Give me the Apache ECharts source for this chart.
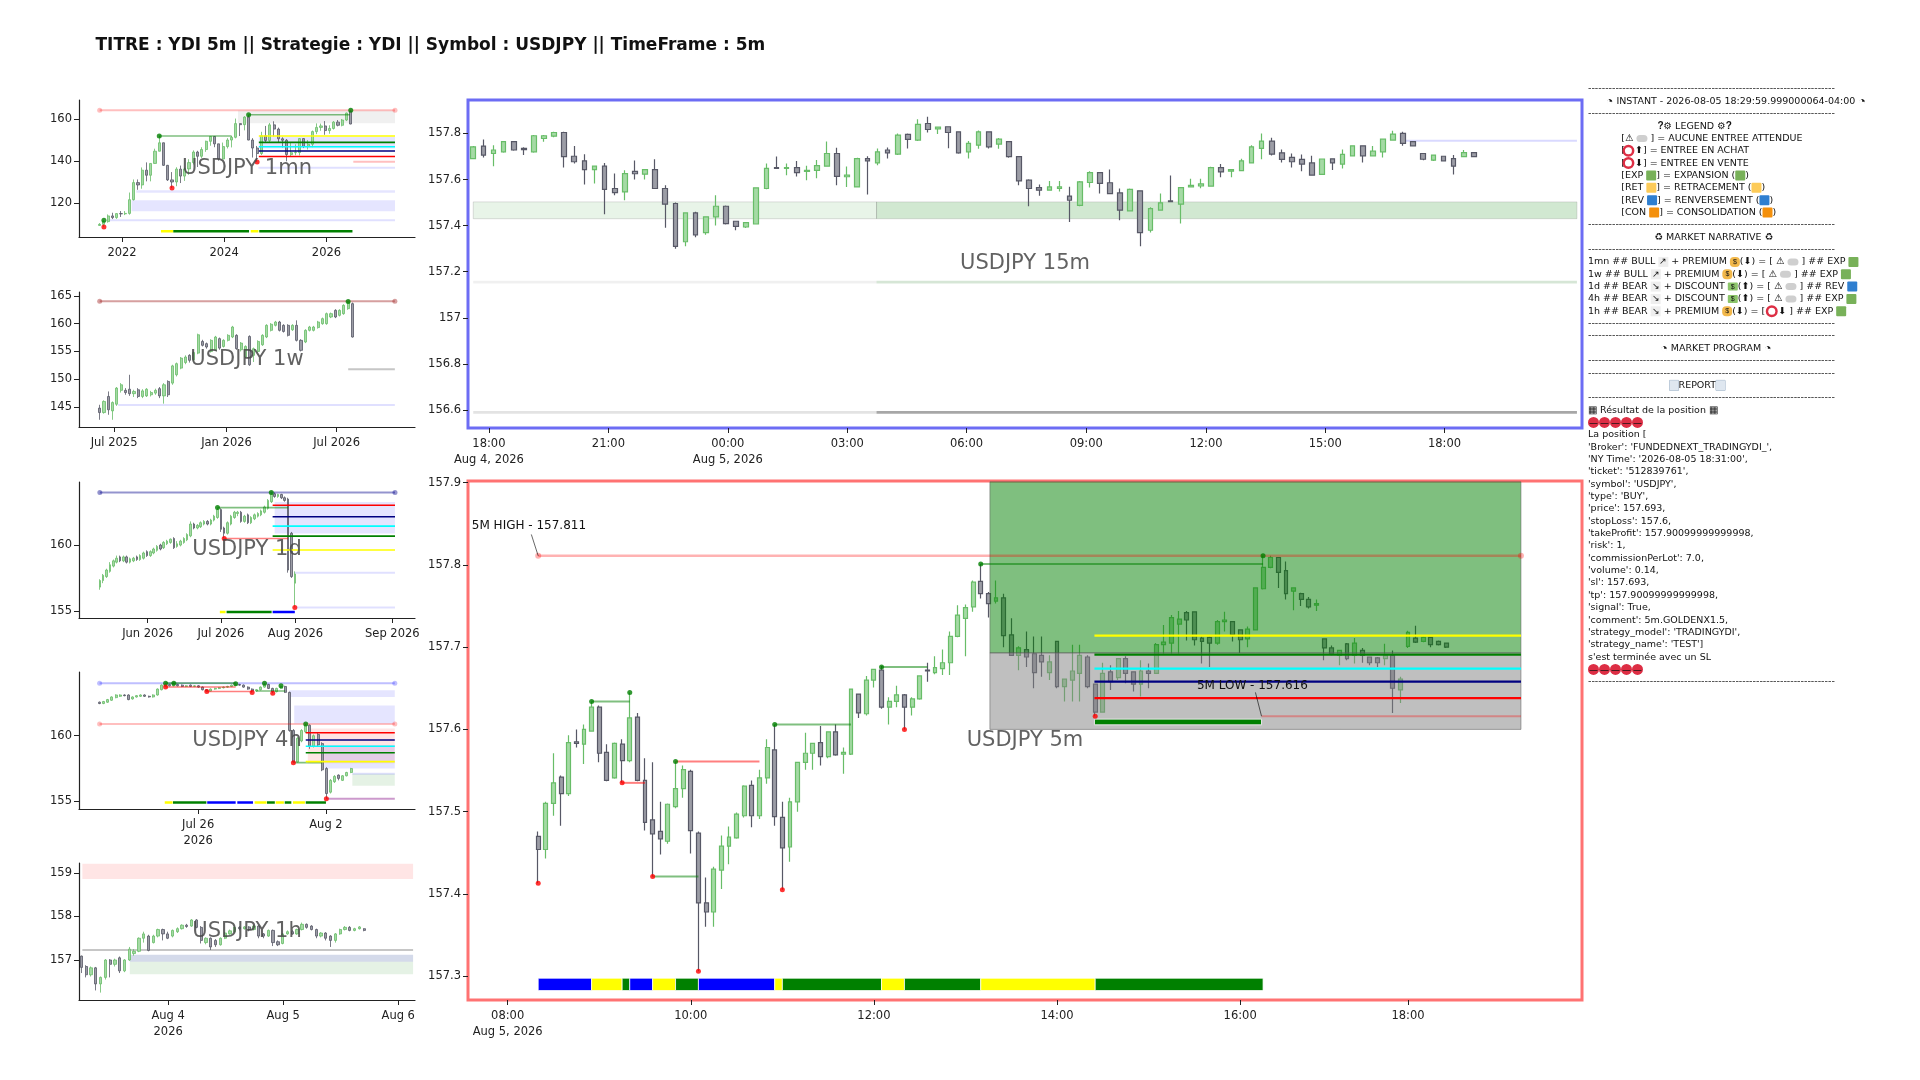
<!DOCTYPE html>
<html>
<head>
<meta charset="utf-8">
<title>USDJPY - YDI 5m</title>
<script src="https://cdn.jsdelivr.net/npm/echarts@6/dist/echarts.min.js"></script>
<style>
  html, body { margin: 0; padding: 0; background: #fff; }
  #chart { width: 1920px; height: 1080px; }
</style>
</head>
<body>
<div id="chart"></div>
<script>
// ---------------- data ----------------
// candles are [open, close, low, high]; x values are bar indexes

// 5m - Aug 5, 2026 from 08:20
const m5Ohlc = [
  [157.470,157.454,157.413,157.476],[157.454,157.510,157.443,157.512],[157.510,157.535,157.495,157.571],[157.542,157.522,157.483,157.544],
  [157.522,157.584,157.519,157.593],[157.585,157.583,157.578,157.600],[157.582,157.600,157.558,157.606],[157.598,157.627,157.597,157.634],
  [157.627,157.571,157.560,157.629],[157.572,157.538,157.537,157.582],[157.541,157.583,157.540,157.584],[157.582,157.562,157.535,157.588],
  [157.562,157.614,157.560,157.645],[157.615,157.538,157.537,157.620],[157.538,157.487,157.477,157.565],[157.490,157.473,157.421,157.560],
  [157.476,157.467,157.448,157.512],[157.464,157.509,157.461,157.510],[157.506,157.528,157.504,157.561],[157.528,157.551,157.517,157.556],
  [157.549,157.477,157.449,157.551],[157.474,157.389,157.306,157.476],[157.389,157.378,157.360,157.420],[157.378,157.430,157.360,157.433],
  [157.429,157.458,157.406,157.471],[157.458,157.469,157.436,157.482],[157.468,157.497,157.467,157.499],[157.495,157.531,157.493,157.532],
  [157.532,157.495,157.481,157.538],[157.495,157.541,157.491,157.551],[157.541,157.578,157.534,157.588],[157.575,157.494,157.483,157.606],
  [157.493,157.456,157.405,157.512],[157.457,157.512,157.439,157.517],[157.512,157.560,157.500,157.560],[157.560,157.571,157.551,157.596],
  [157.571,157.583,157.551,157.583],[157.584,157.567,157.556,157.604],[157.567,157.597,157.565,157.597],[157.597,157.569,157.568,157.606],
  [157.570,157.572,157.546,157.578],[157.570,157.649,157.569,157.649],[157.643,157.620,157.614,157.643],[157.619,157.660,157.617,157.665],
  [157.660,157.673,157.651,157.673],[157.672,157.627,157.625,157.677],[157.627,157.634,157.606,157.639],[157.634,157.642,157.627,157.653],
  [157.642,157.627,157.600,157.643],[157.627,157.637,157.617,157.639],[157.637,157.665,157.636,157.665],[157.672,157.671,157.658,157.681],
  [157.669,157.675,157.667,157.689],[157.674,157.681,157.666,157.697],[157.681,157.713,157.666,157.719],[157.713,157.739,157.712,157.751],
  [157.735,157.748,157.689,157.752],[157.749,157.779,157.743,157.781],[157.780,157.765,157.759,157.801],[157.765,157.753,157.736,157.767],
  [157.756,157.760,157.753,157.781],[157.760,157.714,157.700,157.765],[157.715,157.690,157.690,157.735],[157.690,157.699,157.672,157.701],
  [157.697,157.688,157.676,157.719],[157.692,157.669,157.650,157.713],[157.690,157.682,157.664,157.713],[157.669,157.682,157.660,157.690],
  [157.707,157.652,157.650,157.707],[157.652,157.661,157.634,157.661],[157.660,157.671,157.634,157.703],[157.668,157.690,157.634,157.703],
  [157.688,157.652,157.650,157.690],[157.655,157.621,157.616,157.655],[157.621,157.668,157.621,157.681],[157.670,157.658,157.648,157.678],
  [157.663,157.686,157.660,157.686],[157.686,157.668,157.656,157.689],[157.670,157.655,157.646,157.670],[157.655,157.671,157.640,157.684],
  [157.671,157.668,157.650,157.680],[157.668,157.703,157.668,157.705],[157.703,157.706,157.692,157.727],[157.705,157.736,157.692,157.739],
  [157.728,157.734,157.692,157.744],[157.742,157.733,157.708,157.744],[157.743,157.709,157.702,157.743],[157.711,157.707,157.680,157.713],
  [157.712,157.705,157.676,157.713],[157.705,157.731,157.703,157.733],[157.731,157.733,157.719,157.743],[157.731,157.715,157.707,157.731],
  [157.721,157.709,157.693,157.721],[157.710,157.722,157.700,157.725],[157.721,157.772,157.721,157.772],[157.771,157.797,157.770,157.811],
  [157.797,157.809,157.796,157.811],[157.809,157.791,157.772,157.809],[157.793,157.765,157.758,157.804],[157.768,157.772,157.745,157.772],
  [157.765,157.758,157.750,157.766],[157.758,157.749,157.747,157.761],[157.751,157.753,157.744,157.758],[157.710,157.699,157.684,157.710],
  [157.699,157.692,157.690,157.702],[157.690,157.696,157.678,157.696],[157.704,157.686,157.684,157.705],[157.690,157.705,157.680,157.711],
  [157.696,157.690,157.681,157.699],[157.688,157.681,157.678,157.688],[157.687,157.681,157.676,157.688],[157.686,157.690,157.678,157.704],
  [157.690,157.650,157.620,157.696],[157.648,157.661,157.632,157.664],[157.701,157.718,157.699,157.720],[157.711,157.706,157.705,157.726],
  [157.707,157.712,157.706,157.713],[157.712,157.703,157.700,157.712],[157.707,157.703,157.702,157.708],[157.705,157.700,157.699,157.705]
];
const m5XTicks = [-4, 20, 44, 68, 92, 114];
const m5XLabels = ['08:00\nAug 5, 2026', '10:00', '12:00', '14:00', '16:00', '18:00'];
const m5YTicks = [157.3, 157.4, 157.5, 157.6, 157.7, 157.8, 157.9];
const m5XRange = [-9.2, 136.8];
const m5YRange = [157.271, 157.902];
const m5High = 157.811;
const m5Low = 157.616;
const m5Trade = { start: 59.2, end: 128.8, entry: 157.693, stopLoss: 157.6, takeProfit: 157.901 };
const m5Levels = [[72.9, 128.8, 157.714, 'yellow'], [72.9, 128.8, 157.691, 'green'], [72.9, 128.8, 157.674, 'cyan'], [72.9, 128.8, 157.658, 'navy'], [72.9, 128.8, 157.638, 'red']];
const m5Swings = [[7, 12, 157.634, 'up'], [11, 14, 157.535, 'down'], [15, 21, 157.421, 'up'], [18, 29, 157.561, 'down'], [31, 41, 157.606, 'up'], [45, 51, 157.676, 'up'], [58, 95, 157.801, 'up']];
const m5Pivots = [[0, 157.413, 'low'], [7, 157.634, 'high'], [11, 157.535, 'low'], [12, 157.645, 'high'], [15, 157.421, 'low'], [18, 157.561, 'high'], [21, 157.306, 'low'], [31, 157.606, 'high'], [32, 157.405, 'low'], [45, 157.676, 'high'], [48, 157.600, 'low'], [58, 157.801, 'high'], [73, 157.616, 'low'], [95, 157.811, 'high']];
const m5Phases = [[0, 7, 'REV'], [7, 11, 'RET'], [11, 12, 'EXP'], [12, 15, 'REV'], [15, 18, 'RET'], [18, 21, 'EXP'], [21, 31, 'REV'], [31, 32, 'RET'], [32, 45, 'EXP'], [45, 48, 'RET'], [48, 58, 'EXP'], [58, 73, 'RET'], [73, 95, 'EXP']];
const m5Trend = [72.9, 94.8, 157.609];

// 15m - Aug 4 17:30 -> Aug 5 18:15
const m15Ohlc = [
  [157.691,157.742,157.688,157.745],[157.745,157.706,157.696,157.774],[157.713,157.728,157.658,157.749],[157.720,157.764,157.716,157.767],
  [157.764,157.728,157.725,157.767],[157.735,157.730,157.706,157.740],[157.720,157.790,157.716,157.793],[157.778,157.790,157.764,157.793],
  [157.788,157.804,157.783,157.807],[157.804,157.699,157.652,157.807],[157.701,157.677,157.670,157.745],[157.681,157.643,157.578,157.710],
  [157.643,157.658,157.583,157.658],[157.658,157.557,157.449,157.672],[157.561,157.543,157.532,157.626],[157.546,157.626,157.510,157.640],
  [157.635,157.625,157.600,157.683],[157.623,157.643,157.600,157.643],[157.643,157.561,157.561,157.688],[157.561,157.493,157.391,157.575],
  [157.496,157.310,157.300,157.500],[157.330,157.455,157.310,157.458],[157.455,157.360,157.350,157.460],[157.370,157.438,157.360,157.440],
  [157.438,157.484,157.401,157.532],[157.484,157.409,157.405,157.487],[157.419,157.397,157.380,157.420],[157.394,157.413,157.390,157.415],
  [157.407,157.564,157.405,157.566],[157.561,157.648,157.558,157.670],[157.652,157.648,157.648,157.700],[157.648,157.652,157.618,157.670],
  [157.652,157.630,157.613,157.680],[157.635,157.640,157.597,157.660],[157.640,157.660,157.605,157.685],[157.658,157.713,157.655,157.765],
  [157.713,157.614,157.575,157.738],[157.612,157.619,157.568,157.656],[157.568,157.691,157.565,157.694],[157.691,157.681,157.535,157.701],
  [157.672,157.720,157.662,157.735],[157.728,157.716,157.691,157.739],[157.710,157.793,157.706,157.800],[157.796,157.774,157.735,157.800],
  [157.771,157.839,157.767,157.862],[157.843,157.817,157.804,157.872],[157.820,157.827,157.797,157.829],[157.829,157.804,157.736,157.829],
  [157.807,157.716,157.712,157.807],[157.720,157.757,157.691,157.767],[157.749,157.807,157.733,157.813],[157.807,157.742,157.735,157.807],
  [157.754,157.775,157.733,157.780],[157.764,157.699,157.694,157.764],[157.699,157.594,157.575,157.699],[157.597,157.561,157.484,157.601],
  [157.565,157.554,157.530,157.578],[157.554,157.568,157.551,157.594],[157.561,157.568,157.548,157.594],[157.528,157.510,157.416,157.569],
  [157.488,157.590,157.484,157.594],[157.587,157.630,157.565,157.636],[157.630,157.583,157.539,157.630],[157.586,157.539,157.539,157.644],
  [157.542,157.467,157.423,157.561],[157.464,157.557,157.464,157.561],[157.551,157.370,157.310,157.551],[157.380,157.474,157.370,157.480],
  [157.467,157.499,157.464,157.539],[157.507,157.504,157.501,157.617],[157.493,157.565,157.409,157.565],[157.568,157.575,157.565,157.603],
  [157.572,157.581,157.562,157.603],[157.571,157.652,157.571,157.655],[157.652,157.633,157.610,157.667],[157.636,157.643,157.610,157.646],
  [157.639,157.681,157.636,157.690],[157.672,157.742,157.669,157.749],[157.735,157.767,157.688,157.800],[157.767,157.710,157.704,157.781],
  [157.716,157.687,157.674,157.730],[157.696,157.677,157.652,157.713],[157.687,157.667,157.636,157.709],[157.672,157.619,157.616,157.703],
  [157.622,157.689,157.620,157.690],[157.690,157.672,157.641,157.690],[157.667,157.709,157.648,157.730],[157.703,157.746,157.700,157.746],
  [157.746,157.703,157.674,157.746],[157.703,157.723,157.700,157.745],[157.720,157.775,157.696,157.775],[157.771,157.797,157.770,157.812],
  [157.800,157.757,157.746,157.807],[157.764,157.746,157.745,157.765],[157.713,157.688,157.684,157.714],[157.684,157.706,157.680,157.709],
  [157.701,157.681,157.679,157.702],[157.691,157.658,157.622,157.706],[157.699,157.717,157.699,157.728],[157.717,157.699,157.698,157.718]
];
const m15XTicks = [1.55, 13.37, 25.19, 37.0, 48.8, 60.65, 72.5, 84.3, 96.1];
const m15XLabels = ['18:00\nAug 4, 2026', '21:00', '00:00\nAug 5, 2026', '03:00', '06:00', '09:00', '12:00', '15:00', '18:00'];
const m15YTicks = [156.6, 156.8, 157.0, 157.2, 157.4, 157.6, 157.8];
const m15XRange = [-0.52, 109.7];
const m15YRange = [156.522, 157.945];
const m15Zone = [0, 39.9, 109.2, 157.43, 157.503];
const m15Floors = [157.155, 156.591];
const m15Ceiling = [92, 109.2, 157.768];

// 1mn - monthly from Aug 2021
const mnOhlc = [
  [109.5,110.0,109.3,110.6],[110.0,111.3,108.7,111.9],[111.3,114.0,110.8,114.7],[114.0,113.2,112.5,115.5],[113.2,115.1,112.6,115.2],
  [115.1,115.0,113.5,116.3],[115.0,115.2,114.4,116.3],[115.2,121.7,114.6,125.1],[121.7,129.8,121.3,131.3],[129.8,128.7,126.4,131.3],
  [128.7,135.7,126.9,137.0],[135.7,133.3,130.4,139.4],[133.3,138.9,130.4,139.0],[138.9,144.7,138.8,145.9],[144.7,148.7,144.6,151.9],
  [148.7,138.0,137.7,148.8],[138.0,131.1,130.6,138.2],[131.1,130.1,127.2,134.8],[130.1,136.2,128.1,137.1],[136.2,132.9,129.6,137.9],
  [132.9,136.3,130.6,137.0],[136.3,139.3,133.5,140.9],[139.3,144.3,138.4,145.1],[144.3,142.3,137.2,144.9],[142.3,145.5,141.5,146.6],
  [145.5,149.4,144.4,149.7],[149.4,151.7,147.3,151.7],[151.7,148.2,146.6,151.9],[148.2,141.0,140.2,148.2],[141.0,146.9,140.8,148.8],
  [146.9,150.0,146.0,150.9],[150.0,151.3,146.5,151.9],[151.3,157.8,150.8,160.2],[157.8,157.3,151.9,157.9],[157.3,160.9,154.6,161.3],
  [160.9,150.0,149.9,162.0],[150.0,146.2,141.7,150.9],[146.2,143.6,139.6,147.2],[143.6,152.0,142.9,153.9],[152.0,149.8,148.6,156.7],
  [149.8,157.2,148.6,158.1],[157.2,155.2,151.7,158.9],[155.2,150.6,148.9,155.9],[150.6,149.9,146.5,151.3],[149.9,143.1,139.9,150.5],
  [143.1,144.0,142.1,148.6],[144.0,144.1,142.8,148.0],[144.1,150.7,142.7,150.9],[150.7,147.0,146.2,150.9],[147.0,148.0,145.5,150.0],
  [148.0,154.0,146.6,154.5],[154.0,156.0,152.8,157.9],[156.0,156.7,154.4,157.8],[156.7,154.5,152.5,159.0],[154.5,155.5,153.0,157.0],
  [155.5,158.5,155.0,159.0],[158.5,157.0,156.5,159.5],[157.0,159.5,156.5,160.0],[159.5,162.8,159.0,163.0],[163.6,157.6,157.5,164.1]
];
const mnXTicks = [5.25, 29.25, 53.3];
const mnXLabels = ['2022', '2024', '2026'];
const mnYTicks = [120, 140, 160];
const mnXRange = [-4.86, 74.1];
const mnYRange = [104, 169];
const mnTop = [0, 69.4, 164.1];
const mnPremium = [32.5, 69.4, 158.0, 164.0];
const mnLevels = [[37.4, 69.4, 151.9, 'yellow'], [37.4, 69.4, 148.9, 'green'], [37.4, 69.4, 146.8, 'cyan'], [37.4, 69.4, 144.8, 'navy'], [37.4, 69.4, 142.2, 'red']];
const mnBands = [[37.4, 69.4, 146.0, 151.6], [8.6, 69.4, 125.0, 126.2], [7.5, 69.4, 116.2, 121.4]];
const mnFaint = [[37.3, 69.4, 136.8, 'lavender'], [2.4, 69.4, 111.9, 'lavender'], [59.6, 69.4, 139.7, 'pink']];
const mnSwings = [[14, 31, 151.9, 'up'], [35, 58.8, 162.0, 'up']];
const mnPivots = [[1, 111.9, 'high'], [1, 108.7, 'low'], [14, 151.9, 'high'], [17, 127.2, 'low'], [35, 162.0, 'high'], [37, 139.6, 'low'], [59, 164.1, 'high']];
const mnPhases = [[14.4, 17.3, 'RET'], [17.3, 35.1, 'EXP'], [35.5, 37.3, 'RET'], [37.5, 59.4, 'EXP']];
const mnPhaseLevel = 106.7;

// 1w - weekly from Jun 2025
const wOhlc = [
  [144.8,144.0,142.7,145.4],[144.0,146.0,143.8,146.2],[146.9,144.5,143.6,147.8],[144.3,145.8,142.7,146.0],[145.5,148.4,145.2,148.6],
  [148.0,149.0,147.6,149.3],[148.0,147.6,147.2,148.4],[148.2,147.4,147.0,150.8],[147.4,147.8,146.8,148.1],[148.1,146.9,146.6,148.4],
  [146.9,147.9,146.6,148.2],[147.0,148.2,146.8,148.4],[147.2,147.6,146.9,147.9],[147.5,148.0,147.2,148.3],[148.3,147.0,146.6,148.6],
  [147.0,149.0,145.6,149.3],[149.6,147.2,146.8,149.8],[149.3,152.4,149.0,152.6],[150.8,152.8,150.5,153.0],[152.0,153.8,151.8,154.0],
  [153.0,154.0,152.7,154.3],[154.3,153.4,153.0,154.5],[153.5,154.8,153.2,155.0],[154.7,158.0,154.5,158.2],[156.8,156.1,155.9,157.1],
  [156.4,155.8,155.5,156.6],[155.0,157.0,154.8,157.2],[155.3,157.6,155.1,157.8],[157.3,155.6,155.3,157.5],[155.9,157.0,155.7,157.2],
  [157.0,157.9,156.8,158.1],[157.6,159.4,157.4,159.6],[157.9,155.5,155.3,158.1],[155.3,156.5,155.0,156.7],[154.0,155.9,153.8,156.1],
  [157.7,152.6,152.4,157.9],[154.3,155.5,153.1,155.7],[155.0,156.8,154.8,157.0],[156.2,157.9,156.0,158.1],[157.6,159.7,157.4,159.9],
  [158.8,159.9,158.6,160.1],[159.7,160.3,159.5,160.5],[160.3,158.8,158.6,160.5],[159.7,158.6,158.4,159.9],[159.7,157.9,157.7,159.9],
  [158.9,159.7,158.7,159.9],[159.7,157.0,156.8,160.6],[157.0,155.2,155.0,157.2],[156.7,158.8,156.5,159.0],[158.8,159.4,158.6,159.6],
  [158.8,159.4,158.6,159.6],[159.3,160.3,159.1,160.5],[160.0,160.9,159.8,161.1],[160.0,161.8,159.8,162.0],[161.2,161.8,161.0,162.0],
  [162.4,161.2,161.0,162.6],[161.5,162.4,161.3,162.6],[161.8,163.3,161.6,163.5],[162.7,163.9,162.5,164.0],[163.6,157.6,157.5,163.8]
];
const wXTicks = [3.35, 29.6, 55.3];
const wXLabels = ['Jul 2025', 'Jan 2026', 'Jul 2026'];
const wYTicks = [145, 150, 155, 160, 165];
const wXRange = [-4.83, 73.6];
const wYRange = [141.4, 165.7];
const wTop = [0, 68.9, 164.04];
const wFaint = [[58, 68.9, 151.8, 'grey'], [4.3, 68.9, 145.35, 'lavender']];
const wPivots = [[58, 164.0, 'high']];

// 1d - daily from mid May 2026
const dOhlc = [
  [156.8,157.3,156.6,157.4],[157.3,157.7,157.1,157.8],[157.6,158.1,157.5,158.2],[158.0,158.5,157.9,158.7],[158.4,158.8,158.3,158.9],
  [158.7,159.0,158.6,159.2],[159.1,158.8,158.7,159.2],[158.8,159.1,158.7,159.2],[159.1,158.7,158.6,159.2],[158.7,158.95,158.6,159.05],
  [158.8,159.0,158.7,159.1],[159.1,158.9,158.8,159.2],[158.9,159.2,158.8,159.3],[159.0,159.4,158.9,159.5],[159.5,159.2,159.1,159.6],
  [159.2,159.5,159.1,159.6],[159.4,159.7,159.3,159.8],[159.6,159.9,159.5,160.0],[160.0,159.7,159.6,160.1],[159.8,160.2,159.7,160.3],
  [160.1,160.3,160.0,160.4],[160.2,160.45,160.1,160.5],[160.5,159.8,159.7,160.6],[159.9,160.1,159.8,160.3],[160.0,160.3,159.9,160.4],
  [160.2,160.5,160.1,160.6],[160.4,160.8,160.3,160.9],[160.7,161.6,160.6,161.8],[161.6,161.3,161.2,161.7],[161.3,161.5,161.2,161.6],
  [161.4,161.7,161.3,161.8],[161.6,161.8,161.5,161.9],[161.8,161.6,161.5,161.9],[161.6,161.9,161.5,162.0],[161.9,162.2,161.8,162.3],
  [162.1,162.7,162.0,162.85],[162.7,161.2,161.0,162.8],[161.3,160.9,160.5,161.4],[160.9,161.7,160.8,161.8],[161.6,162.2,161.5,162.3],
  [162.1,162.5,162.0,162.6],[162.4,162.5,162.2,162.6],[162.5,161.8,161.7,162.6],[161.8,162.2,161.7,162.3],[162.3,161.7,161.6,162.4],
  [161.7,162.1,161.6,162.2],[162.0,162.3,161.9,162.4],[162.2,162.4,162.1,162.5],[162.3,162.6,162.2,162.7],[162.5,162.9,162.4,163.0],
  [162.8,163.4,162.7,163.5],[163.3,163.9,163.2,164.0],[163.9,163.7,163.6,164.0],[163.7,163.85,163.6,163.9],[163.85,163.6,163.5,163.9],
  [163.6,163.4,163.3,163.7],[163.5,158.1,157.9,163.6],[160.9,157.6,157.5,161.0],[157.1,157.8,155.25,158.0]
];
const dXTicks = [14.2, 36.0, 58.2, 87.0];
const dXLabels = ['Jun 2026', 'Jul 2026', 'Aug 2026', 'Sep 2026'];
const dYTicks = [155, 160];
const dXRange = [-6.2, 93.75];
const dYRange = [154.45, 164.8];
const dTop = [0, 87.8, 164.0];
const dBox = [52, 87.8, 160.88, 163.28];
const dLevels = [[51.4, 87.8, 163.03, 'red'], [51.4, 87.8, 162.15, 'navy'], [51.4, 87.8, 161.44, 'cyan'], [51.4, 87.8, 160.68, 'green'], [51.4, 87.8, 159.62, 'yellow']];
const dFaint = [[57.9, 87.8, 157.9, 'lavender'], [58, 87.8, 155.25, 'lavender']];
const dSwings = [[35, 56, 162.85, 'up'], [37, 56, 160.5, 'down']];
const dPivots = [[35, 162.85, 'high'], [37, 160.5, 'low'], [51, 164.0, 'high'], [58, 155.25, 'low']];
const dPhases = [[35.7, 37.4, 'RET'], [37.7, 51.1, 'EXP'], [51.4, 58.0, 'REV']];
const dPhaseLevel = 154.9;

// 4h - from Jul 22, 2026
const h4Ohlc = [
  [162.55,162.45,162.40,162.60],[162.45,162.60,162.40,162.65],[162.55,162.75,162.50,162.80],[162.70,162.95,162.65,163.00],[162.90,163.10,162.85,163.15],
  [163.00,163.10,162.95,163.15],[163.10,163.05,163.00,163.15],[163.10,162.75,162.70,163.15],[162.80,162.95,162.75,163.00],[162.95,163.05,162.90,163.10],
  [163.00,163.10,162.95,163.15],[163.10,163.00,162.95,163.15],[163.00,162.95,162.90,163.05],[162.95,163.10,162.90,163.15],[163.10,163.55,163.05,163.60],
  [163.50,163.85,163.45,163.90],[163.75,163.90,163.71,164.00],[163.90,163.80,163.75,163.95],[163.80,163.95,163.75,164.00],[163.90,163.80,163.75,163.95],
  [163.85,163.75,163.70,163.90],[163.75,163.80,163.70,163.85],[163.85,163.75,163.70,163.90],[163.75,163.80,163.70,163.85],[163.80,163.70,163.65,163.85],
  [163.70,163.50,163.45,163.75],[163.50,163.40,163.36,163.55],[163.40,163.55,163.38,163.60],[163.55,163.60,163.50,163.65],[163.60,163.65,163.55,163.70],
  [163.65,163.70,163.60,163.75],[163.70,163.75,163.65,163.80],[163.75,163.85,163.70,163.90],[163.85,163.90,163.80,163.96],[163.90,163.85,163.80,163.95],
  [163.85,163.70,163.65,163.90],[163.70,163.55,163.50,163.75],[163.55,163.40,163.28,163.60],[163.40,163.50,163.35,163.55],[163.50,163.70,163.45,163.75],
  [163.70,163.90,163.65,164.00],[163.90,163.60,163.55,163.95],[163.60,163.35,163.23,163.65],[163.35,163.60,163.30,163.65],[163.60,163.75,163.55,163.80],
  [163.75,163.30,163.25,163.80],[163.30,160.40,160.30,163.35],[160.40,158.00,157.95,160.50],[158.00,159.80,157.98,159.90],[159.60,160.40,159.50,160.50],
  [160.30,160.80,160.20,160.90],[160.80,159.20,159.00,160.85],[159.20,160.00,159.10,160.10],[160.10,159.30,159.20,160.20],[159.40,157.40,157.30,159.50],
  [157.50,155.60,155.20,157.60],[155.70,156.60,155.60,156.70],[156.50,156.90,156.40,157.00],[157.00,156.75,156.60,157.05],[156.60,156.95,156.55,157.00],
  [156.95,157.20,156.90,157.25],[157.20,157.50,157.15,157.55]
];
const h4XTicks = [23.9, 54.9];
const h4XLabels = ['Jul 26\n2026', 'Aug 2'];
const h4YTicks = [155, 160];
const h4XRange = [-5.0, 76.5];
const h4YRange = [154.42, 164.85];
const h4Tops = [[0, 71.6, 164.0, 'lavender'], [0, 71.6, 160.9, 'pink']];
const h4Boxes = [[46, 71.6, 162.95, 163.46, 'lavender'], [47.2, 71.6, 160.93, 162.3, 'lavender'], [50.5, 71.6, 157.9, 160.55, 'pink'], [54.5, 71.6, 157.5, 159.3, 'lavender'], [61.3, 71.6, 156.19, 157.1, 'mint']];
const h4Levels = [[50, 71.6, 160.23, 'red'], [50, 71.6, 159.67, 'navy'], [50, 71.6, 159.2, 'cyan'], [50, 71.6, 158.7, 'green'], [50, 71.6, 158.03, 'yellow']];
const h4Faint = [[55, 71.6, 155.2, 'purple'], [61.3, 71.6, 157.1, 'lavender']];
const h4Swings = [[16, 33, 164.0, 'up'], [16, 33, 163.71, 'down'], [26, 37, 163.36, 'down'], [38, 45, 163.4, 'up'], [47, 54, 157.95, 'up']];
const h4Pivots = [[16, 164.0, 'high'], [16, 163.71, 'low'], [18, 164.0, 'high'], [26, 163.36, 'low'], [33, 163.96, 'high'], [37, 163.28, 'low'], [40, 164.0, 'high'], [42, 163.23, 'low'], [44, 163.8, 'high'], [47, 157.95, 'low'], [50, 160.9, 'high'], [55, 155.2, 'low']];
const h4Phases = [[15.8, 17.7, 'RET'], [17.8, 25.9, 'EXP'], [26.1, 33, 'REV'], [33.4, 37.2, 'REV'], [37.6, 40.5, 'RET'], [40.6, 42.5, 'EXP'], [42.7, 44.7, 'RET'], [44.9, 46.5, 'EXP'], [46.9, 49.8, 'RET'], [50, 54.9, 'EXP']];
const h4PhaseLevel = 154.92;

// 1h - from Aug 3, 2026 06:00
const h1Ohlc = [
  [157.09,156.83,156.70,157.10],[156.85,156.66,156.60,156.88],[156.66,156.82,156.62,156.85],[156.82,156.45,156.30,156.84],[156.45,156.60,156.25,156.62],
  [156.60,157.00,156.55,157.02],[157.00,156.90,156.60,157.02],[156.90,157.00,156.85,157.03],[157.05,156.75,156.70,157.08],[156.75,157.00,156.72,157.02],
  [157.00,157.25,156.98,157.30],[157.15,157.20,157.10,157.25],[157.20,157.50,157.18,157.52],[157.50,157.60,157.40,157.65],[157.55,157.22,157.20,157.58],
  [157.40,157.55,157.38,157.58],[157.55,157.70,157.52,157.72],[157.70,157.60,157.45,157.72],[157.60,157.50,157.48,157.65],[157.55,157.68,157.52,157.70],
  [157.65,157.72,157.62,157.75],[157.72,157.80,157.70,157.82],[157.80,157.77,157.74,157.83],[157.78,157.92,157.76,157.94],[157.92,157.75,157.73,157.94],
  [157.75,157.45,157.38,157.78],[157.40,157.50,157.36,157.52],[157.50,157.30,157.23,157.52],[157.45,157.35,157.30,157.48],[157.35,157.50,157.33,157.52],
  [157.50,157.62,157.48,157.64],[157.60,157.67,157.58,157.70],[157.65,157.75,157.63,157.77],[157.75,157.72,157.68,157.78],[157.72,157.76,157.70,157.78],
  [157.76,157.70,157.66,157.78],[157.70,157.78,157.68,157.80],[157.78,157.55,157.50,157.80],[157.60,157.55,157.50,157.62],[157.55,157.68,157.53,157.70],
  [157.68,157.40,157.32,157.70],[157.42,157.35,157.32,157.45],[157.38,157.60,157.36,157.62],[157.60,157.65,157.58,157.68],[157.65,157.60,157.58,157.70],
  [157.60,157.70,157.58,157.72],[157.70,157.82,157.68,157.86],[157.82,157.75,157.72,157.84],[157.78,157.70,157.68,157.80],[157.70,157.55,157.50,157.72],
  [157.55,157.62,157.52,157.64],[157.62,157.50,157.45,157.64],[157.55,157.45,157.30,157.57],[157.45,157.60,157.40,157.62],[157.60,157.70,157.58,157.72],
  [157.70,157.75,157.68,157.78],[157.75,157.68,157.66,157.78],[157.68,157.72,157.66,157.74],[157.72,157.76,157.70,157.78],[157.72,157.68,157.66,157.73]
];
const h1XTicks = [18.1, 42.1, 66.1];
const h1XLabels = ['Aug 4\n2026', 'Aug 5', 'Aug 6'];
const h1YTicks = [157, 158, 159];
const h1XRange = [-0.5, 69.6];
const h1YRange = [156.08, 159.23];
const h1Boxes = [[0.2, 69.2, 158.86, 159.21, 'pink'], [10.1, 69.2, 156.96, 157.12, 'steel'], [10.1, 69.2, 156.67, 156.96, 'mint']];
const h1Faint = [[0.2, 69.2, 157.23, 'grey']];

// side report
const DASH = '-'.repeat(72);
const panelLines = [
  DASH,
  '      ⏱ INSTANT - 2026-08-05 18:29:59.999000064-04:00 ⏱',
  DASH,
  '                       ❔⚙ LEGEND ⚙❔',
  '           [⚠ 👁 ] = AUCUNE ENTREE ATTENDUE',
  '           [🎯 ⬆] = ENTREE EN ACHAT',
  '           [🎯 ⬇] = ENTREE EN VENTE',
  '           [EXP 🟩] = EXPANSION (🟩)',
  '           [RET 🟨] = RETRACEMENT (🟨)',
  '           [REV 🟦] = RENVERSEMENT (🟦)',
  '           [CON 🟧] = CONSOLIDATION (🟧)',
  DASH,
  '                      ♻ MARKET NARRATIVE ♻',
  DASH,
  '1mn ## BULL 📈 + PREMIUM 💰(⬇) = [ ⚠ 👁 ] ## EXP 🟩',
  '1w ## BULL 📈 + PREMIUM 💰(⬇) = [ ⚠ 👁 ] ## EXP 🟩',
  '1d ## BEAR 📉 + DISCOUNT 💸(⬆) = [ ⚠ 👁 ] ## REV 🟦',
  '4h ## BEAR 📉 + DISCOUNT 💸(⬆) = [ ⚠ 👁 ] ## EXP 🟩',
  '1h ## BEAR 📉 + PREMIUM 💰(⬇) = [ 🎯 ⬇ ] ## EXP 🟩',
  DASH,
  DASH,
  '                        ⏰ MARKET PROGRAM ⏰',
  DASH,
  DASH,
  '                           📊REPORT📊',
  DASH,
  '🏁 Résultat de la position 🏁',
  '⛔⛔⛔⛔⛔',
  'La position [',
  "'Broker': 'FUNDEDNEXT_TRADINGYDI_',",
  "'NY Time': '2026-08-05 18:31:00',",
  "'ticket': '512839761',",
  "'symbol': 'USDJPY',",
  "'type': 'BUY',",
  "'price': 157.693,",
  "'stopLoss': 157.6,",
  "'takeProfit': 157.90099999999998,",
  "'risk': 1,",
  "'commissionPerLot': 7.0,",
  "'volume': 0.14,",
  "'sl': 157.693,",
  "'tp': 157.90099999999998,",
  "'signal': True,",
  "'comment': 5m.GOLDENX1.5,",
  "'strategy_model': 'TRADINGYDI',",
  "'strategy_name': 'TEST']",
  "s'est terminée avec un SL",
  '⛔⛔⛔⛔⛔',
  DASH
];
const titleText = 'TITRE : YDI 5m || Strategie : YDI || Symbol : USDJPY || TimeFrame : 5m';

// ---------------- styles ----------------
const FONT = 'DejaVu Sans';
const AX = '#222';
const BULL_FILL = '#a5daa5', BULL_EDGE = '#68bd68';
const BEAR_FILL = '#9c9da6', BEAR_EDGE = '#575866';
const LEVEL_COLORS = { yellow: '#ffff00', green: '#008000', cyan: '#00ffff', navy: '#000080', red: '#ff0000' };
const PHASE_COLORS = { EXP: '#008000', RET: '#ffff00', REV: '#0000ff', CON: '#ffa500' };
const FAINT_COLORS = { lavender: 'rgba(0,0,255,0.12)', pink: 'rgba(255,0,0,0.25)', grey: 'rgba(128,128,128,0.45)', purple: 'rgba(128,0,128,0.4)' };
const BOX_COLORS = { lavender: 'rgba(0,0,255,0.1)', pink: 'rgba(255,0,0,0.1)', mint: 'rgba(0,128,0,0.1)', steel: 'rgba(40,70,150,0.2)', grey: 'rgba(128,128,128,0.12)' };
const SWING_COLORS = { up: 'rgba(0,128,0,0.5)', down: 'rgba(255,0,0,0.5)' };
const PIVOT_COLORS = { high: '#008000', low: '#ff0000' };

const BOXES = {
  mn:  { left: 79, top: 100, width: 336, height: 137 },
  w:   { left: 79, top: 292, width: 336, height: 135 },
  d:   { left: 79, top: 482, width: 336, height: 136 },
  h4:  { left: 79, top: 672, width: 336, height: 137 },
  h1:  { left: 79, top: 863, width: 336, height: 137 },
  m15: { left: 468, top: 100, width: 1114, height: 328 },
  m5:  { left: 468, top: 481, width: 1114, height: 519 }
};

// ---------------- builders ----------------
const grids = [], xAxes = [], yAxes = [], series = [], marks = [];

function pickLabel(ticks, labels) {
  return v => {
    const k = ticks.findIndex(t => Math.abs(t - v) < 1e-6);
    return k < 0 ? '' : labels[k];
  };
}
const fmtNum = v => String(+(+v).toFixed(3));

function addPanel(box, p) {
  const gi = grids.length;
  grids.push({
    left: box.left, top: box.top, width: box.width, height: box.height,
    show: !!p.frame, borderColor: p.frame || 'transparent', borderWidth: 3,
    backgroundColor: 'rgba(0,0,0,0)'
  });
  const line = { show: !p.frame, onZero: false, lineStyle: { color: AX, width: 1.2 } };
  const label = { fontFamily: FONT, fontSize: 11.5, color: AX, margin: 8.5, lineHeight: 16 };
  xAxes.push({
    type: 'value', gridIndex: gi, min: p.xRange[0], max: p.xRange[1],
    axisLine: line, splitLine: { show: false },
    axisTick: { show: true, length: 5, lineStyle: { color: AX }, customValues: p.xTicks },
    axisLabel: Object.assign({ customValues: p.xTicks, formatter: pickLabel(p.xTicks, p.xLabels) }, label)
  });
  yAxes.push({
    type: 'value', gridIndex: gi, min: p.yRange[0], max: p.yRange[1],
    axisLine: line, splitLine: { show: false },
    axisTick: { show: true, length: 5, lineStyle: { color: AX }, customValues: p.yTicks },
    axisLabel: Object.assign({ customValues: p.yTicks, formatter: fmtNum }, label, { margin: 7 })
  });
  marks.push({ box, name: p.name });
  return gi;
}

function candles(gi, ohlc, width, bw) {
  series.push({
    type: 'candlestick', xAxisIndex: gi, yAxisIndex: gi, z: 2, silent: true,
    barWidth: width,
    itemStyle: { color: BULL_FILL, color0: BEAR_FILL, borderColor: BULL_EDGE, borderColor0: BEAR_EDGE, borderWidth: bw },
    data: ohlc.map((d, i) => [i, d[0], d[1], d[2], d[3]])
  });
}

function hline(gi, x0, x1, y, color, width, z, dotSize) {
  series.push({
    type: 'line', xAxisIndex: gi, yAxisIndex: gi, z: z, silent: true,
    data: [[x0, y], [x1, y]],
    symbol: dotSize ? 'circle' : 'none', symbolSize: dotSize || 0, showSymbol: !!dotSize,
    itemStyle: { color: color }, lineStyle: { color: color, width: width, cap: 'butt' }
  });
}

function rects(gi, items, z) {
  series.push({
    type: 'custom', xAxisIndex: gi, yAxisIndex: gi, z: z, silent: true,
    data: items.map(r => [r.x0, r.y0, r.x1, r.y1]),
    renderItem(params, api) {
      const r = items[params.dataIndex];
      const a = api.coord([api.value(0), api.value(3)]);
      const b = api.coord([api.value(2), api.value(1)]);
      return {
        type: 'rect',
        shape: { x: a[0], y: a[1], width: b[0] - a[0], height: b[1] - a[1] },
        style: { fill: r.fill, stroke: r.stroke || null, lineWidth: r.lw || 0 }
      };
    }
  });
}

function dots(gi, pts, size) {
  series.push({
    type: 'scatter', xAxisIndex: gi, yAxisIndex: gi, z: 6, silent: true,
    symbolSize: size,
    data: pts.map(p => ({ value: [p[0], p[1]], itemStyle: { color: PIVOT_COLORS[p[2]] } }))
  });
}

function levels(gi, list, width, z) {
  list.forEach(l => hline(gi, l[0], l[1], l[2], LEVEL_COLORS[l[3]], width, z));
}
function swings(gi, list, width) {
  list.forEach(s => hline(gi, s[0], s[1], s[2], SWING_COLORS[s[3]], width, 4));
}
function faint(gi, list, width) {
  list.forEach(f => hline(gi, f[0], f[1], f[2], FAINT_COLORS[f[3]], width, 1));
}
function phaseLines(gi, list, y, width) {
  list.forEach(p => hline(gi, p[0], p[1], y, PHASE_COLORS[p[2]], width, 4));
}

function notes(gi, list) {
  series.push({
    type: 'custom', xAxisIndex: gi, yAxisIndex: gi, z: 7, silent: true,
    data: list.map((n, i) => [n.at[0], n.at[1], i]),
    renderItem(params, api) {
      const n = list[params.dataIndex];
      const p = api.coord(n.at), f = api.coord(n.from), t = api.coord(n.tip);
      return {
        type: 'group',
        children: [
          { type: 'line', shape: { x1: f[0], y1: f[1], x2: t[0], y2: t[1] }, style: { stroke: 'rgba(0,0,0,0.75)', lineWidth: 0.8 } },
          { type: 'text', x: p[0], y: p[1], style: { text: n.text, fill: '#111', fontFamily: FONT, fontSize: 12, align: n.align, verticalAlign: 'middle' } }
        ]
      };
    }
  });
}

// ---------------- panels ----------------
// 1mn
let g = addPanel(BOXES.mn, { name: 'USDJPY 1mn', xRange: mnXRange, yRange: mnYRange, xTicks: mnXTicks, xLabels: mnXLabels, yTicks: mnYTicks });
rects(g, [{ x0: mnPremium[0], x1: mnPremium[1], y0: mnPremium[2], y1: mnPremium[3], fill: BOX_COLORS.grey }]
  .concat(mnBands.map(b => ({ x0: b[0], x1: b[1], y0: b[2], y1: b[3], fill: BOX_COLORS.lavender }))), 1);
faint(g, mnFaint, 2);
candles(g, mnOhlc, 2.6, 0.8);
hline(g, mnTop[0], mnTop[1], mnTop[2], 'rgba(255,0,0,0.25)', 2, 3, 5);
swings(g, mnSwings, 1.6);
levels(g, mnLevels, 1.6, 4);
phaseLines(g, mnPhases, mnPhaseLevel, 2.5);
dots(g, mnPivots, 5);

// 1w
g = addPanel(BOXES.w, { name: 'USDJPY 1w', xRange: wXRange, yRange: wYRange, xTicks: wXTicks, xLabels: wXLabels, yTicks: wYTicks });
faint(g, wFaint, 2);
candles(g, wOhlc, 2.6, 0.8);
hline(g, wTop[0], wTop[1], wTop[2], 'rgba(165,42,42,0.45)', 2, 3, 5);
dots(g, wPivots, 5);

// 1d
g = addPanel(BOXES.d, { name: 'USDJPY 1d', xRange: dXRange, yRange: dYRange, xTicks: dXTicks, xLabels: dXLabels, yTicks: dYTicks });
rects(g, [{ x0: dBox[0], x1: dBox[1], y0: dBox[2], y1: dBox[3], fill: BOX_COLORS.lavender }], 1);
faint(g, dFaint, 2);
candles(g, dOhlc, 2, 0.8);
hline(g, dTop[0], dTop[1], dTop[2], 'rgba(0,0,139,0.42)', 2, 3, 5);
swings(g, dSwings, 1.6);
levels(g, dLevels, 1.6, 4);
phaseLines(g, dPhases, dPhaseLevel, 2.5);
dots(g, dPivots, 5);

// 4h
g = addPanel(BOXES.h4, { name: 'USDJPY 4h', xRange: h4XRange, yRange: h4YRange, xTicks: h4XTicks, xLabels: h4XLabels, yTicks: h4YTicks });
rects(g, h4Boxes.map(b => ({ x0: b[0], x1: b[1], y0: b[2], y1: b[3], fill: BOX_COLORS[b[4]] })), 1);
faint(g, h4Faint, 2);
candles(g, h4Ohlc, 2.5, 0.8);
h4Tops.forEach(t => hline(g, t[0], t[1], t[2], t[3] === 'pink' ? 'rgba(255,0,0,0.25)' : 'rgba(0,0,255,0.25)', 2, 3, 5));
swings(g, h4Swings, 1.6);
levels(g, h4Levels, 1.6, 4);
phaseLines(g, h4Phases, h4PhaseLevel, 2.5);
dots(g, h4Pivots, 5);

// 1h
g = addPanel(BOXES.h1, { name: 'USDJPY 1h', xRange: h1XRange, yRange: h1YRange, xTicks: h1XTicks, xLabels: h1XLabels, yTicks: h1YTicks });
rects(g, h1Boxes.map(b => ({ x0: b[0], x1: b[1], y0: b[2], y1: b[3], fill: BOX_COLORS[b[4]] })), 1);
faint(g, h1Faint, 2.2);
candles(g, h1Ohlc, 2.8, 0.8);

// 15m
g = addPanel(BOXES.m15, { name: 'USDJPY 15m', frame: '#6c6cf4', xRange: m15XRange, yRange: m15YRange, xTicks: m15XTicks, xLabels: m15XLabels, yTicks: m15YTicks });
rects(g, [
  { x0: m15Zone[0], x1: m15Zone[1], y0: m15Zone[3], y1: m15Zone[4], fill: 'rgba(0,128,0,0.09)', stroke: 'rgba(128,128,128,0.25)', lw: 1 },
  { x0: m15Zone[1], x1: m15Zone[2], y0: m15Zone[3], y1: m15Zone[4], fill: 'rgba(0,128,0,0.18)', stroke: 'rgba(128,128,128,0.25)', lw: 1 },
  { x0: m15Zone[0], x1: m15Zone[1], y0: m15Floors[0] - 0.006, y1: m15Floors[0] + 0.006, fill: 'rgba(128,128,128,0.12)' },
  { x0: m15Zone[1], x1: m15Zone[2], y0: m15Floors[0] - 0.006, y1: m15Floors[0] + 0.006, fill: 'rgba(0,100,0,0.16)' },
  { x0: m15Zone[0], x1: m15Zone[1], y0: m15Floors[1] - 0.007, y1: m15Floors[1] + 0.005, fill: 'rgba(128,128,128,0.22)' },
  { x0: m15Zone[1], x1: m15Zone[2], y0: m15Floors[1] - 0.007, y1: m15Floors[1] + 0.005, fill: 'rgba(80,80,80,0.5)' }
], 1);
hline(g, m15Ceiling[0], m15Ceiling[1], m15Ceiling[2], 'rgba(0,0,255,0.15)', 2, 1);
candles(g, m15Ohlc, 5.2, 1.2);

// 5m
g = addPanel(BOXES.m5, { name: 'USDJPY 5m', frame: '#ff7272', xRange: m5XRange, yRange: m5YRange, xTicks: m5XTicks, xLabels: m5XLabels, yTicks: m5YTicks });
candles(g, m5Ohlc, 4.4, 1.2);
rects(g, [
  { x0: m5Trade.start, x1: m5Trade.end, y0: m5Trade.entry, y1: m5Trade.takeProfit, fill: 'rgba(0,128,0,0.5)', stroke: 'rgba(90,90,90,0.5)', lw: 1 },
  { x0: m5Trade.start, x1: m5Trade.end, y0: m5Trade.stopLoss, y1: m5Trade.entry, fill: 'rgba(128,128,128,0.5)', stroke: 'rgba(90,90,90,0.5)', lw: 1 }
], 3);
hline(g, 0, m5Trade.end, m5High, 'rgba(255,0,0,0.3)', 2.5, 4, 6);
hline(g, 94.8, m5Trade.end, m5Low, 'rgba(255,0,0,0.3)', 2, 4);
swings(g, m5Swings, 2);
levels(g, m5Levels, 2.2, 5);
rects(g, [{ x0: m5Trend[0], x1: m5Trend[1], y0: m5Trend[2] - 0.0035, y1: m5Trend[2] + 0.0035, fill: PHASE_COLORS.EXP, stroke: '#e6e6e6', lw: 1 }], 5);
rects(g, m5Phases.map(p => ({ x0: p[0], x1: p[1], y0: 157.2825, y1: 157.2975, fill: PHASE_COLORS[p[2]], stroke: 'rgba(255,255,255,0.75)', lw: 1 })), 5);
dots(g, m5Pivots, 5);
notes(g, [
  { text: `5M HIGH - ${m5High}`, at: [-8.7, 157.848], from: [-0.9, 157.837], tip: [0, m5High], align: 'left' },
  { text: `5M LOW - ${m5Low}`, at: [93.6, 157.653], from: [94.0, 157.645], tip: [94.8, m5Low], align: 'center' }
]);

// ---------------- text: title, panel names, report ----------------
const BADGES = {
  '🟩': ['sqG', ' '], '🟨': ['sqY', ' '], '🟦': ['sqB', ' '], '🟧': ['sqO', ' '],
  '⛔': ['stop', '—'], '🎯': ['target', ' '], '👁': ['eye', ' '], '📈': ['up', '↗'], '📉': ['down', '↘'],
  '💰': ['bag', '$'], '💸': ['cash', '$'], '⏱': ['clock', '◔'], '⏰': ['alarm', '◔'], '📊': ['bars', ' '],
  '🏁': ['flag', '▦'], '❔': ['q', '?']
};
const RICH = {
  sqG: { backgroundColor: '#78b159', width: 10, height: 10, borderRadius: 1 },
  sqY: { backgroundColor: '#fdcb58', width: 10, height: 10, borderRadius: 1 },
  sqB: { backgroundColor: '#2f7fd0', width: 10, height: 10, borderRadius: 1 },
  sqO: { backgroundColor: '#f4900c', width: 10, height: 10, borderRadius: 1 },
  stop: { backgroundColor: '#dd2e44', color: '#fff', width: 11, height: 11, borderRadius: 6, fontSize: 8, fontWeight: 'bold', align: 'center' },
  target: { backgroundColor: '#fff', borderColor: '#dd2e44', borderWidth: 2.5, width: 7, height: 7, borderRadius: 5 },
  eye: { backgroundColor: '#cfcfcf', width: 11, height: 7, borderRadius: 4 },
  up: { backgroundColor: '#eeeeee', color: '#dd2e44', width: 10, height: 10, fontSize: 9, align: 'center' },
  down: { backgroundColor: '#eeeeee', color: '#3b88c3', width: 10, height: 10, fontSize: 9, align: 'center' },
  bag: { backgroundColor: '#f2b84b', color: '#7a5a20', width: 10, height: 10, borderRadius: 4, fontSize: 7, align: 'center' },
  cash: { backgroundColor: '#8cc46a', color: '#2f5f20', width: 10, height: 8, borderRadius: 1, fontSize: 7, align: 'center' },
  clock: { color: '#8f989f', fontSize: 12 },
  alarm: { color: '#dd2e44', fontSize: 12 },
  bars: { backgroundColor: '#dfe7f0', borderColor: '#9fb3c8', borderWidth: 0.5, width: 9, height: 10 },
  flag: { color: '#555', fontSize: 10 },
  q: { color: '#c8c8c8', fontSize: 10, fontWeight: 'bold' }
};
function richify(line) {
  let out = '';
  for (const ch of line) {
    const b = BADGES[ch];
    out += b ? `{${b[0]}|${b[1]}}` : ch;
  }
  return out;
}

const PANEL_X = 1588, PANEL_Y = 89, PANEL_STEP = 12.35;
const elements = [{
  type: 'text', x: 95.5, y: 45.5, z: 100,
  style: { text: titleText, fill: '#111', fontFamily: FONT, fontSize: 17, fontWeight: 'bold', verticalAlign: 'middle' }
}];
marks.forEach(m => elements.push({
  type: 'text', x: m.box.left + m.box.width / 2, y: m.box.top + m.box.height / 2, z: 100,
  style: { text: m.name, fill: 'rgba(70,70,70,0.85)', fontFamily: FONT, fontSize: 21, align: 'center', verticalAlign: 'middle' }
}));
panelLines.forEach((line, n) => elements.push({
  type: 'text', x: PANEL_X, y: PANEL_Y + n * PANEL_STEP, z: 100,
  style: { text: richify(line), rich: RICH, fill: '#111', fontFamily: FONT, fontSize: 9.5, verticalAlign: 'middle' }
}));

const chart = echarts.init(document.getElementById('chart'), null, { renderer: 'canvas', width: 1920, height: 1080 });
chart.setOption({
  animation: false,
  backgroundColor: '#fff',
  textStyle: { fontFamily: FONT },
  grid: grids,
  xAxis: xAxes,
  yAxis: yAxes,
  series: series,
  graphic: { elements: elements }
});
</script>
</body>
</html>
